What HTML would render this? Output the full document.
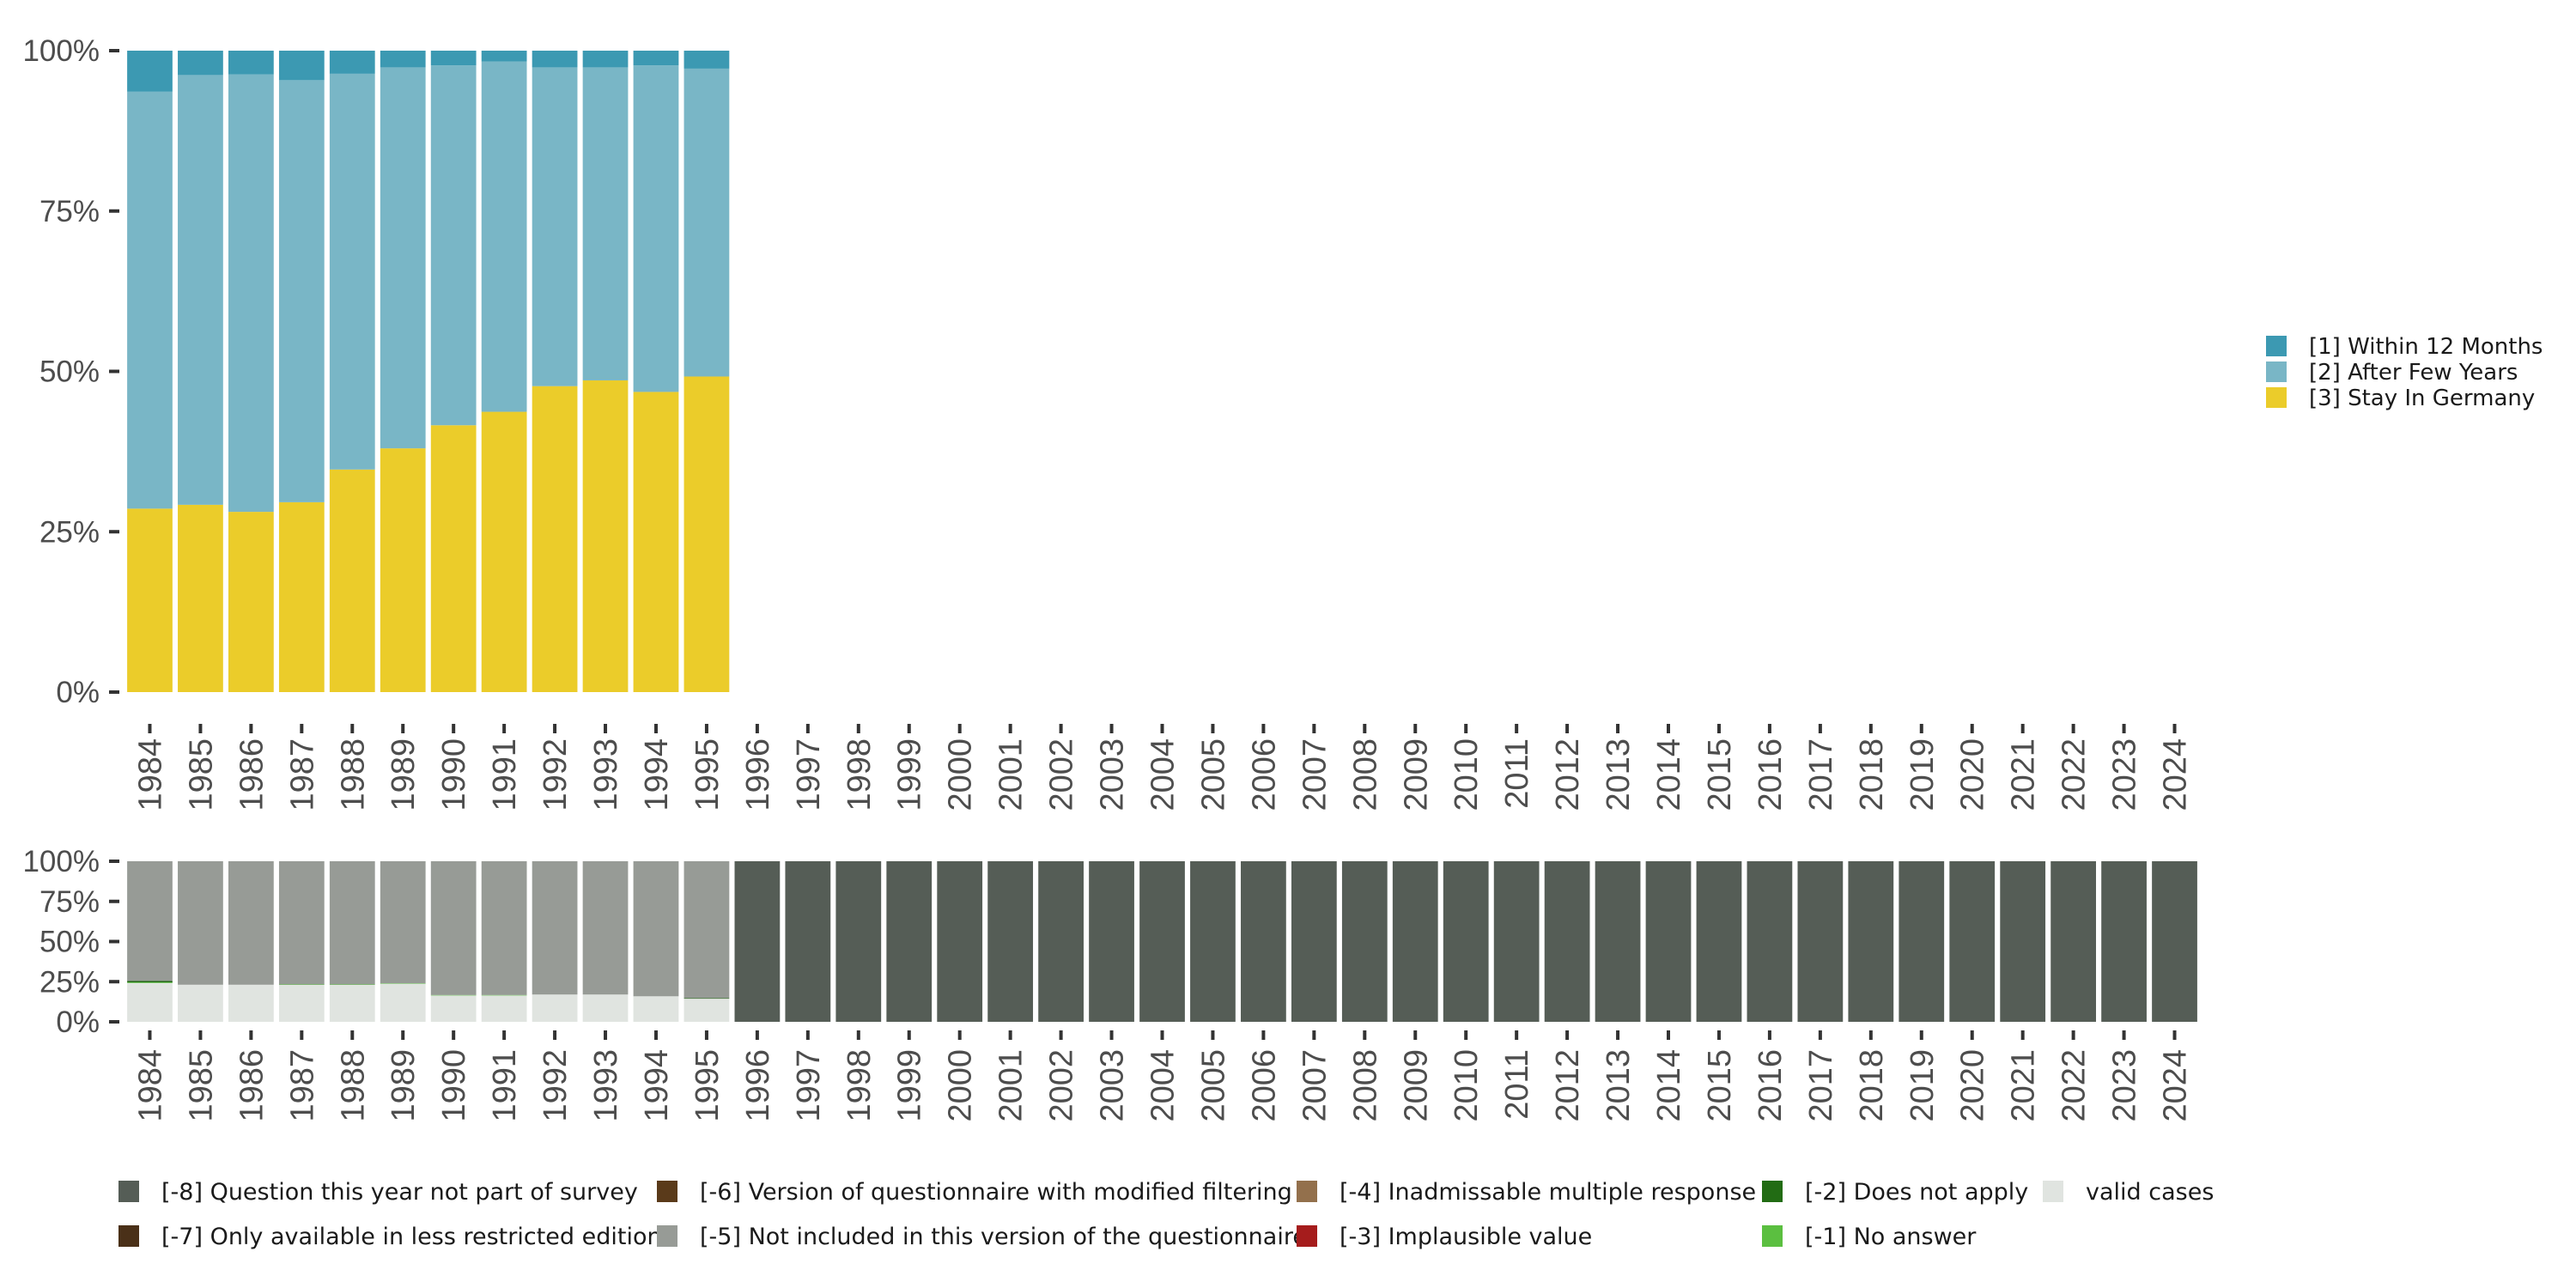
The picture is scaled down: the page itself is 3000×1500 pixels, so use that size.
<!DOCTYPE html>
<html><head><meta charset="utf-8"><style>
html,body{margin:0;padding:0;background:#fff;}
svg{display:block;font-family:"Liberation Sans","DejaVu Sans",sans-serif;}
.lgt{font-family:"DejaVu Sans","Liberation Sans",sans-serif;}
</style></head><body>
<svg id="chart" width="3000" height="1500" viewBox="0 0 3000 1500" xmlns="http://www.w3.org/2000/svg"></svg>
<script>
const years = [];
for (let y = 1984; y <= 2024; y++) years.push(String(y));
// top panel (only 1984-1995 have data), percentages
const within12 = [6.4,3.8,3.7,4.6,3.6,2.6,2.3,1.7,2.6,2.6,2.3,2.8];
const afterFew = [65.0,67.0,68.2,65.8,61.7,59.4,56.1,54.6,49.7,48.8,50.9,48.0];
const stayGermany = [28.6,29.2,28.1,29.6,34.7,38.0,41.6,43.7,47.7,48.6,46.8,49.2];
// bottom panel, percentages
const validCases = [24.2,23.1,23.1,23.0,23.0,23.7,16.4,16.4,17.0,17.0,15.9,14.4];
const noAnswer = [0.4,0,0,0.3,0.3,0.3,0.3,0.3,0,0,0,0];
const doesNotApply = [0.8,0,0,0,0,0,0,0,0,0,0,0.3];
const yTicks = [0,25,50,75,100];
const yTickLabels = ["0%","25%","50%","75%","100%"];

const NS = "http://www.w3.org/2000/svg";
const svg = document.getElementById('chart');
function el(tag, attrs, parent){const e=document.createElementNS(NS,tag);for(const k in attrs)e.setAttribute(k,attrs[k]);(parent||svg).appendChild(e);return e;}

const x0 = 145, x1 = 2562;
const step = (x1 - x0) / years.length, bw = step * 0.895;
function xBand(i){return x0 + i*step + (step-bw)/2;}
function yTop(v){return 806 - v/100*(806-59);}
function yBot(v){return 1190 - v/100*(1190-1003);}

const C = {w12:'#3c99b2', afw:'#79b6c6', stay:'#ebcc2a', m8:'#555d56', m7:'#4a3018', m6:'#5a3a1a', m5:'#979b96', m4:'#93704c', m3:'#a51c1c', m2:'#226c14', m1:'#5bbf40', valid:'#e0e4e0'};

function drawYAxis(scale, name){
  const g = el('g',{});  
  yTicks.forEach((t,i)=>{
    const y = scale(t);
    el('line',{x1:127,x2:139,y1:y,y2:y,stroke:'#333','stroke-width':4},g);
    const tx = el('text',{x:116,y:y+12,'text-anchor':'end','font-size':35,fill:'#4d4d4d'},g);
    tx.textContent = yTickLabels[i];
  });
}
function drawXAxis(tickY, labelY, name){
  const g = el('g',{});  
  years.forEach((yr,i)=>{
    const cx = x0 + i*step + step/2;
    el('line',{x1:cx,x2:cx,y1:tickY,y2:tickY+11,stroke:'#333','stroke-width':4},g);
    const t = el('text',{x:cx+13,y:labelY,'text-anchor':'end','font-size':38,fill:'#4d4d4d',transform:`rotate(-90 ${cx+13} ${labelY})`},g);
    t.textContent = yr;
  });
}

const topG = el('g',{});


stayGermany.forEach((s,i)=>{
  const segs = [[stayGermany[i],C.stay,'stay'],[afterFew[i],C.afw,'after-few'],[within12[i],C.w12,'within-12']];
  let acc = 0;
  segs.forEach(([v,c,n])=>{
    const r = el('rect',{x:xBand(i),y:yTop(acc+v),width:bw,height:yTop(acc)-yTop(acc+v),fill:c},topG);
    
    
    acc += v;
  });
});
drawYAxis(yTop,'top-y-axis');
drawXAxis(843,860,'top-x-axis');

const botG = el('g',{});


years.forEach((yr,i)=>{
  let segs;
  if (i < validCases.length) {
    const rest = 100 - validCases[i] - noAnswer[i] - doesNotApply[i];
    segs = [[validCases[i],C.valid,'valid'],[noAnswer[i],C.m1,'no-answer'],[doesNotApply[i],C.m2,'does-not-apply'],[rest,C.m5,'not-included']];
  } else {
    segs = [[100,C.m8,'not-part-survey']];
  }
  let acc = 0;
  segs.forEach(([v,c,n])=>{
    if (v<=0) return;
    const r = el('rect',{x:xBand(i),y:yBot(acc+v),width:bw,height:yBot(acc)-yBot(acc+v),fill:c},botG);
    
    
    acc += v;
  });
});
drawYAxis(yBot,'bottom-y-axis');
drawXAxis(1200,1222,'bottom-x-axis');

const lg = el('g',{});


[['[1] Within 12 Months',C.w12],['[2] After Few Years',C.afw],['[3] Stay In Germany',C.stay]].forEach(([t,c],i)=>{
  const y = 391 + i*30;
  el('rect',{x:2639,y:y,width:24,height:24,fill:c},lg);
  const tx = el('text',{x:2689,y:y+21,'font-size':26,fill:'#1a1a1a','class':'lgt'},lg);
  tx.textContent = t;
  
  
});

const bl = el('g',{});


const items = [
  ['[-8] Question this year not part of survey',C.m8,138,0],
  ['[-7] Only available in less restricted edition',C.m7,138,1],
  ['[-6] Version of questionnaire with modified filtering',C.m6,765,0],
  ['[-5] Not included in this version of the questionnaire',C.m5,765,1],
  ['[-4] Inadmissable multiple response',C.m4,1510,0],
  ['[-3] Implausible value',C.m3,1510,1],
  ['[-2] Does not apply',C.m2,2052,0],
  ['[-1] No answer',C.m1,2052,1],
  ['valid cases',C.valid,2379,0]
];
items.forEach(([t,c,x,r])=>{
  const cy = 1387 + r*52;
  const tx = el('text',{x:x+50,y:cy+10,'font-size':27,fill:'#1a1a1a','class':'lgt'},bl);
  tx.textContent = t;
  
  
  el('rect',{x:x,y:cy-12,width:24,height:25,fill:c},bl);
});
</script>
</body></html>
